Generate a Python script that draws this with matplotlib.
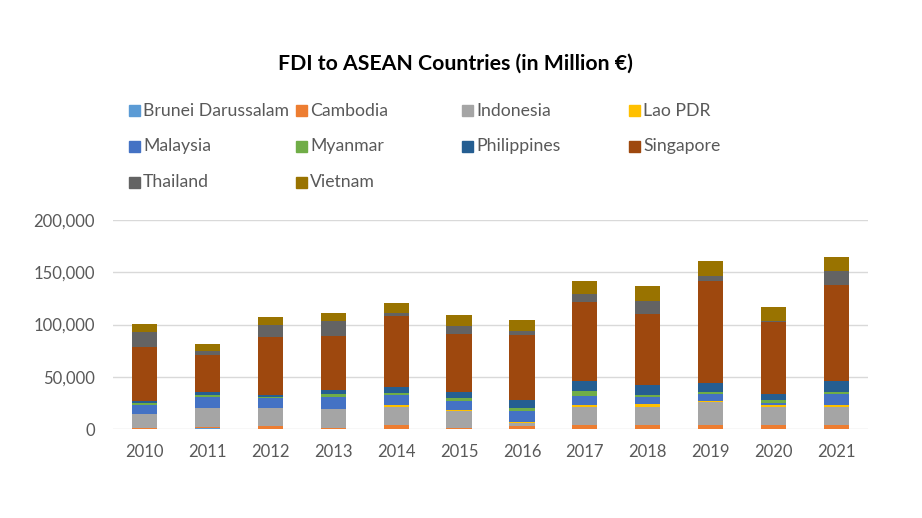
import numpy as np
import matplotlib
matplotlib.use("Agg")
import matplotlib.pyplot as plt
from matplotlib.patches import Rectangle

plt.rcParams['font.family'] = ['Lato', 'DejaVu Sans']

years = ['2010', '2011', '2012', '2013', '2014', '2015', '2016', '2017', '2018', '2019', '2020', '2021']
countries = ['Brunei Darussalam', 'Cambodia', 'Indonesia', 'Lao PDR', 'Malaysia',
             'Myanmar', 'Philippines', 'Singapore', 'Thailand', 'Vietnam']
colors = ['#5B9BD5', '#ED7D31', '#A5A5A5', '#FFC000', '#4472C4',
          '#70AD47', '#255E91', '#9E480E', '#636363', '#997300']

# million euro
brunei = [300, 1000, 300, 300, 300, 300, 300, 300, 300, 300, 300, 300]
cambodia = [1000, 500, 2900, 1000, 3200, 1000, 2500, 3200, 3200, 3200, 3200, 3200]
indonesia = [12800, 18700, 17000, 17900, 17700, 15700, 2600, 17700, 17700, 22500, 17700, 17700]
lao = [300, 200, 200, 200, 1600, 1600, 1600, 2200, 3200, 900, 1600, 2200]
malaysia = [9000, 10700, 8800, 11700, 10200, 8600, 10300, 8600, 6700, 6800, 2200, 10300]
myanmar = [1500, 1900, 1600, 2200, 1300, 2300, 2600, 4200, 1600, 1600, 2600, 1600]
philippines = [1500, 2000, 2200, 3900, 5700, 5500, 8000, 9600, 9300, 8900, 5700, 10500]
singapore = [52500, 36200, 55100, 51900, 67700, 56000, 61800, 75300, 67600, 97100, 69300, 92300]
thailand = [13500, 3200, 11900, 14700, 3500, 7100, 4500, 7700, 12500, 5200, 300, 12900]
vietnam = [8000, 6700, 7400, 7400, 9000, 10900, 10000, 12900, 14800, 14700, 14100, 14000]

series = [brunei, cambodia, indonesia, lao, malaysia, myanmar,
          philippines, singapore, thailand, vietnam]

fig = plt.figure(figsize=(9.22, 5.18), dpi=100)
ax = fig.add_axes([0.1226, 0.1718, 0.8188, 0.4035])

x = np.arange(len(years))
bottom = np.zeros(len(years))
for name, vals, c in zip(countries, series, colors):
    ax.bar(x, vals, 0.4, bottom=bottom, color=c, label=name, zorder=3)
    bottom += np.array(vals)

ax.set_xlim(-0.5, len(years) - 0.5)
ax.set_ylim(0, 200000)
ax.set_yticks([0, 50000, 100000, 150000, 200000])
ax.set_yticklabels([f'{v:,}' for v in [0, 50000, 100000, 150000, 200000]])
ax.set_xticks(x)
ax.set_xticklabels(years)
ax.grid(axis='y', color='#D9D9D9', linewidth=1, zorder=0)
for s in ax.spines.values():
    s.set_visible(False)
ax.tick_params(length=0, labelsize=12, colors='#595959')
ax.tick_params(axis='x', pad=11)
ax.tick_params(axis='y', pad=13)

fig.text(0.4935, 0.878, 'FDI to ASEAN Countries (in Million €)', ha='center', va='center',
         fontsize=15.3, fontweight='bold', color='black')

# legend laid out in rows like the original
col_x = [134, 301, 467, 634]
row_y = [111, 146, 182]
sq = 11
for i, (name, c) in enumerate(zip(countries, colors)):
    px = col_x[i % 4]
    py = row_y[i // 4]
    fig.patches.append(Rectangle(((px - sq / 2) / 922, 1 - (py + sq / 2) / 518), sq / 922, sq / 518,
                                 transform=fig.transFigure, color=c))
    fig.text((px + 9) / 922, 1 - py / 518, name, ha='left', va='center',
             fontsize=12.7, color='#595959')

fig.savefig('out.png', dpi=100)
